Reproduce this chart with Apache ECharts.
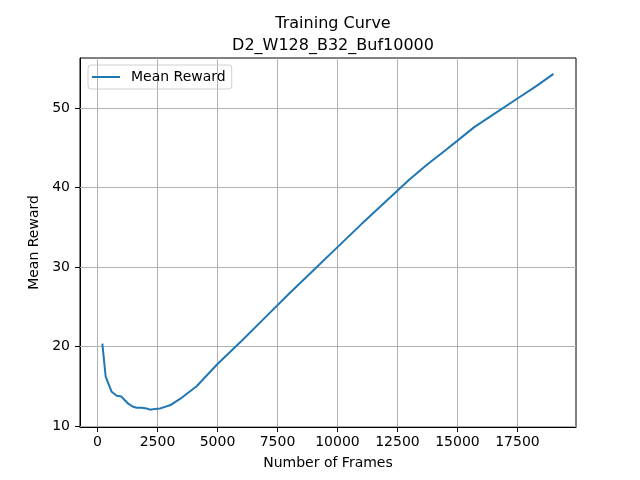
<!DOCTYPE html>
<html>
<head>
<meta charset="utf-8">
<script src="https://cdn.jsdelivr.net/npm/echarts@6/dist/echarts.min.js"></script>
<style>
html, body { margin: 0; padding: 0; background: #fff; }
#chart { width: 640px; height: 480px; }
</style>
</head>
<body>
<div id="chart"></div>
<script>
// data
var frames = [200, 340, 590, 800, 1000, 1120, 1280, 1460, 1630, 1840, 2050, 2190, 2400, 2600, 2810, 3020, 3440, 4130,
    5000, 6000, 7000, 8000, 9000, 10000, 11000, 12000, 13000, 13700, 14500, 15000, 15700, 16500, 17500, 18300, 19000]
var rewards = [20.35, 16.2, 14.3, 13.8, 13.7, 13.3, 12.8, 12.45, 12.3, 12.3, 12.2, 12.05, 12.15, 12.2, 12.4, 12.6, 13.4, 15.0,
    17.8, 20.7, 23.7, 26.7, 29.6, 32.5, 35.4, 38.2, 41.0, 42.8, 44.7, 45.9, 47.6, 49.2, 51.2, 52.8, 54.3]
var xTicks = [0, 2500, 5000, 7500, 10000, 12500, 15000, 17500]
var yTicks = [10, 20, 30, 40, 50]
var seriesName = 'Mean Reward'

var font = 'DejaVu Sans'
var chart = echarts.init(document.getElementById('chart'))

var gridLines = []
xTicks.forEach(function (v) { gridLines.push({ xAxis: v }) })
yTicks.forEach(function (v) { gridLines.push({ yAxis: v }) })

var option = {
    animation: false,
    textStyle: { fontFamily: font, color: '#000' },
    title: {
        text: 'Training Curve\nD2_W128_B32_Buf10000',
        left: 328,
        textAlign: 'center',
        top: 8,
        textStyle: { fontFamily: font, fontSize: 16, fontWeight: 'normal', color: '#000', lineHeight: 22 }
    },
    legend: {
        data: [seriesName],
        left: 88,
        top: 65,
        orient: 'vertical',
        icon: 'rect',
        itemWidth: 28,
        itemHeight: 2,
        itemGap: 6,
        padding: [5, 6, 5, 4],
        borderColor: '#d0d0d0',
        borderWidth: 1,
        borderRadius: 3,
        textStyle: { fontFamily: font, fontSize: 14, color: '#000', padding: [0, 0, 0, 6] }
    },
    grid: {
        left: 80, right: 64, top: 58, bottom: 53,
        show: true,
        borderColor: '#000',
        borderWidth: 1
    },
    xAxis: {
        type: 'value',
        min: -730,
        max: 19940,
        name: 'Number of Frames',
        nameLocation: 'middle',
        nameGap: 29,
        nameTextStyle: { fontFamily: font, fontSize: 14, color: '#000' },
        axisLine: { show: true, onZero: false, lineStyle: { color: '#000' } },
        axisTick: { show: true, length: 5, customValues: xTicks, lineStyle: { color: '#000' } },
        axisLabel: {
            customValues: xTicks, fontFamily: font, fontSize: 14, color: '#000', margin: 8,
            formatter: function (v) { return String(v) }
        },
        splitLine: { show: false }
    },
    yAxis: {
        type: 'value',
        min: 9.87,
        max: 56.3,
        name: 'Mean Reward',
        nameLocation: 'middle',
        nameGap: 34,
        nameTextStyle: { fontFamily: font, fontSize: 14, color: '#000' },
        axisLine: { show: true, onZero: false, lineStyle: { color: '#000' } },
        axisTick: { show: true, length: 5, customValues: yTicks, lineStyle: { color: '#000' } },
        axisLabel: { customValues: yTicks, fontFamily: font, fontSize: 14, color: '#000', margin: 10 },
        splitLine: { show: false }
    },
    series: [{
        name: seriesName,
        type: 'line',
        data: frames.map(function (f, i) { return [f, rewards[i]] }),
        symbol: 'none',
        color: '#1f77b4',
        lineStyle: { width: 2, color: '#1f77b4' },
        z: 3,
        markLine: {
            silent: true,
            symbol: ['none', 'none'],
            label: { show: false },
            lineStyle: { color: '#b0b0b0', width: 1, type: 'solid' },
            z: 1,
            data: gridLines
        }
    }]
}
chart.setOption(option)
</script>
</body>
</html>
